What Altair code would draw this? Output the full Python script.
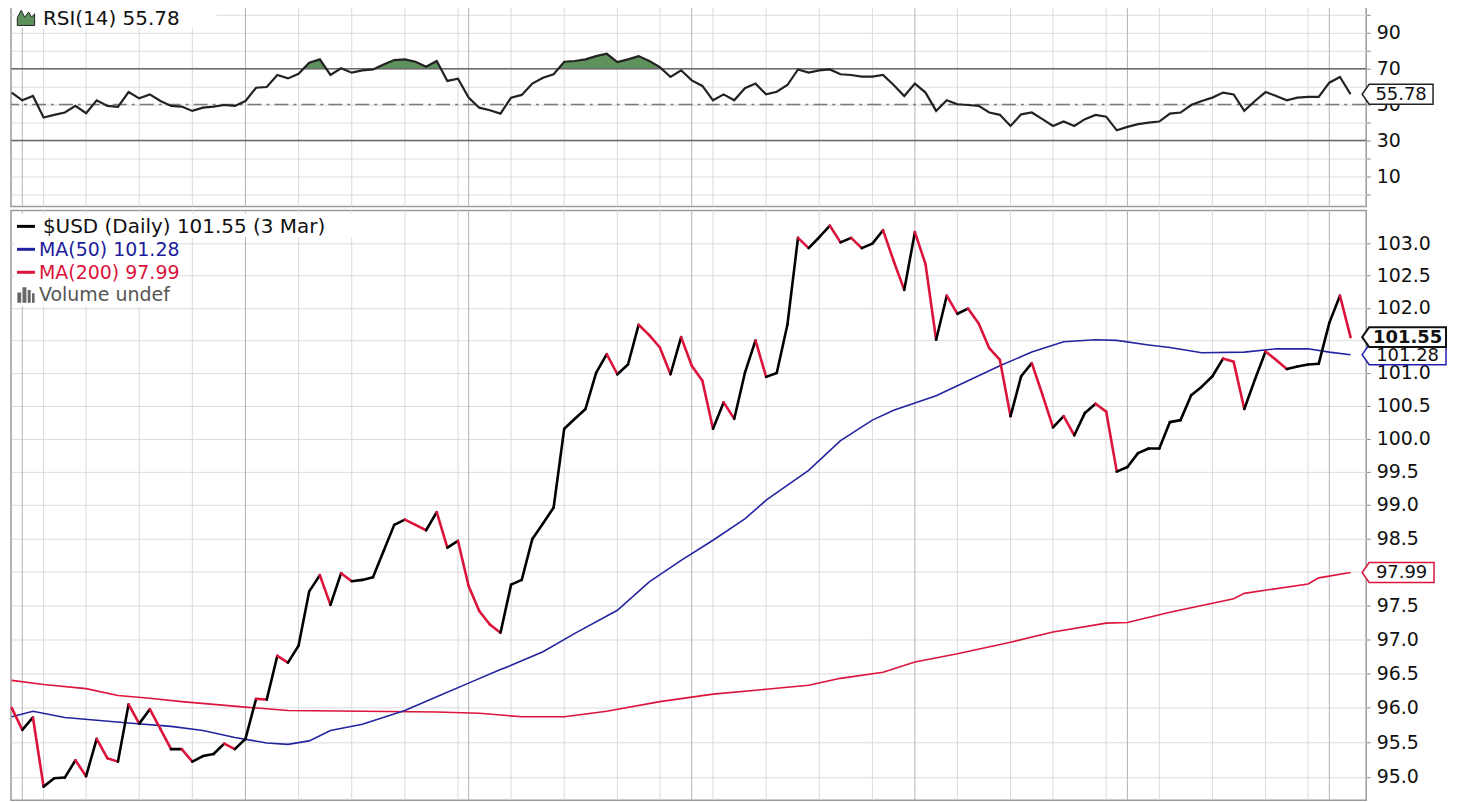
import altair as alt
import pandas as pd

# ---------------- data ----------------
price = [96.00, 95.68, 95.86, 94.86, 94.98, 94.99, 95.24, 95.01, 95.55, 95.27,
         95.22, 96.05, 95.77, 95.98, 95.69, 95.40, 95.40, 95.22, 95.30, 95.33,
         95.48, 95.40, 95.55, 96.13, 96.12, 96.76, 96.66, 96.91, 97.71, 97.95,
         97.51, 97.98, 97.86, 97.88, 97.92, 98.31, 98.70, 98.78, 98.70, 98.62,
         98.89, 98.36, 98.46, 97.79, 97.42, 97.22, 97.10, 97.81, 97.88, 98.49,
         98.72, 98.96, 100.15, 100.30, 100.45, 101.00, 101.29, 100.98, 101.13, 101.74,
         101.58, 101.39, 100.98, 101.55, 101.11, 100.88, 100.15, 100.55, 100.30, 101.00,
         101.50, 100.94, 101.00, 101.74, 103.09, 102.93, 103.10, 103.28, 103.02, 103.09,
         102.93, 103.00, 103.21, 102.73, 102.28, 103.18, 102.68, 101.51, 102.19, 101.91,
         101.99, 101.76, 101.38, 101.20, 100.34, 100.95, 101.15, 100.67, 100.17, 100.34,
         100.05, 100.39, 100.53, 100.41, 99.50, 99.57, 99.78, 99.85, 99.85, 100.25,
         100.28, 100.66, 100.79, 100.95, 101.22, 101.17, 100.45, 100.90, 101.33, 101.20,
         101.06, 101.10, 101.13, 101.14, 101.77, 102.19, 101.55]

rsi = [56.7, 52.4, 54.8, 42.8, 44.3, 45.6, 49.3, 45.2, 52.4, 49.3,
       48.7, 57.0, 53.5, 55.7, 52.0, 49.3, 48.9, 46.5, 48.3, 48.9,
       49.8, 49.3, 52.0, 59.4, 59.8, 66.5, 64.6, 67.2, 73.3, 75.2,
       66.5, 70.2, 67.8, 69.1, 69.6, 72.4, 74.8, 75.2, 73.9, 71.1,
       74.3, 63.2, 64.4, 53.9, 48.3, 46.9, 45.0, 53.9, 55.4, 61.7,
       65.0, 66.9, 73.9, 74.3, 75.2, 77.0, 78.3, 73.7, 75.2, 77.0,
       74.3, 70.9, 65.4, 69.1, 63.5, 60.4, 52.4, 55.7, 52.4, 59.1,
       61.7, 55.7, 57.2, 60.9, 69.6, 67.8, 69.1, 69.6, 66.9, 66.5,
       65.6, 65.6, 66.5, 60.9, 54.8, 61.7, 56.7, 46.5, 52.4, 50.2,
       49.8, 49.3, 45.6, 44.3, 38.1, 44.6, 45.6, 41.9, 38.1, 40.6,
       38.1, 41.9, 44.3, 43.3, 35.7, 37.6, 39.1, 40.0, 40.6, 45.0,
       45.6, 49.8, 52.0, 53.9, 56.7, 55.7, 46.5, 52.0, 57.0, 54.8,
       52.4, 53.9, 54.3, 54.3, 62.2, 65.4, 55.78]

ma50_idx = [0, 2, 5, 8, 11, 15, 18, 21, 24, 26, 28, 30, 33, 37, 40, 43, 46, 47,
            50, 53, 57, 60, 63, 66, 69, 71, 75, 78, 81, 83, 87, 90, 93, 96, 99,
            102, 104, 107, 109, 112, 116, 119, 122, 124, 126]
ma50 = [95.87, 95.95, 95.86, 95.82, 95.78, 95.73, 95.67, 95.57, 95.49, 95.47,
        95.52, 95.67, 95.76, 95.96, 96.16, 96.36, 96.56, 96.62, 96.82, 97.09,
        97.43, 97.85, 98.17, 98.47, 98.79, 99.07, 99.52, 99.97, 100.28, 100.43,
        100.65, 100.88, 101.11, 101.32, 101.48, 101.51, 101.50, 101.43, 101.39,
        101.31, 101.32, 101.37, 101.37, 101.32, 101.28]

ma200_idx = [0, 3, 7, 10, 13, 16, 19, 22, 26, 33, 40, 44, 48, 52, 56, 61, 66,
             71, 75, 78, 82, 85, 89, 94, 98, 103, 105, 109, 115, 116, 122, 123, 126]
ma200 = [96.40, 96.34, 96.28, 96.18, 96.14, 96.09, 96.05, 96.01, 95.96, 95.95,
         95.94, 95.92, 95.87, 95.87, 95.95, 96.09, 96.20, 96.27, 96.33, 96.43,
         96.52, 96.67, 96.79, 96.96, 97.11, 97.24, 97.25, 97.40, 97.60, 97.68,
         97.82, 97.91, 97.99]

month_idx = [1, 22, 43, 64, 85, 105, 124]
week_idx = [3, 7, 12, 17, 27, 32, 37, 42, 47, 52, 57, 61, 66, 71, 76, 81,
            89, 94, 98, 103, 108, 113, 118, 122]

price_ticks = [95.0, 95.5, 96.0, 96.5, 97.0, 97.5, 98.0, 98.5, 99.0, 99.5,
               100.0, 100.5, 101.0, 101.5, 102.0, 102.5, 103.0]
rsi_ticks = [0, 10, 20, 30, 40, 50, 60, 70, 80, 90, 100]
rsi_labels = [10, 30, 50, 70, 90]
rsi_levels = [70, 30]

# ---------------- styling ----------------
FONT = "DejaVu Sans"
W = 1358
HR = 201
HP = 591
BLACK = "#000000"
RED = "#dc143c"
BLUE = "#2424a0"
GREEN = "#5e915b"

n = len(price)
x_scale = alt.Scale(domain=[-0.066, 127.47], nice=False, zero=False)
rsi_scale = alt.Scale(domain=[-6.67, 105], nice=False, zero=False)
p_scale = alt.Scale(type="log", domain=[94.665, 103.52], nice=False, zero=False)

rsi_axis = alt.Axis(orient="right", values=rsi_ticks, title=None, grid=True,
                    gridColor="#dcdcdc", gridWidth=1, domain=False,
                    tickColor="#888888", tickSize=4, labelPadding=6,
                    labelExpr="indexof(" + str(rsi_labels) + ", datum.value) >= 0 ? datum.label : ''",
                    labelFont=FONT, labelFontSize=19, labelColor="#111111")
p_axis = alt.Axis(orient="right", values=price_ticks, format=".1f", title=None,
                  grid=True, gridColor="#dcdcdc", gridWidth=1, domain=False,
                  tickColor="#888888", tickSize=4, labelPadding=6,
                  labelFont=FONT, labelFontSize=19, labelColor="#111111")


def X(f):
    return alt.X(f, type="quantitative", scale=x_scale, axis=None)


def YR(f):
    return alt.Y(f, type="quantitative", scale=rsi_scale, axis=rsi_axis)


def YP(f):
    return alt.Y(f, type="quantitative", scale=p_scale, axis=p_axis)


def tag_path(w, h, a=7):
    r = w / 2.0
    hh = (h / 2.0) / r
    ax = -1 + a / r
    return (f"M -1 0 L {ax:.3f} {-hh:.3f} L 1 {-hh:.3f} L 1 {hh:.3f} "
            f"L {ax:.3f} {hh:.3f} Z")


def tag(df, field, yfn, w, stroke, sw=1.5, bold=False, fmt=".2f", fs=18):
    cx = 1354 + w / 2.0
    tx = 1354 + 7 + (w - 7) / 2.0
    shape = alt.Chart(df).mark_point(
        shape=tag_path(w, 20), size=w * w, filled=True, fill="white",
        stroke=stroke, strokeWidth=sw, opacity=1
    ).encode(x=alt.value(cx), y=yfn(field))
    txt = alt.Chart(df).mark_text(
        align="center", baseline="middle", font=FONT, fontSize=fs,
        fontWeight="bold" if bold else "normal", color="#111111", dy=1
    ).encode(x=alt.value(tx), y=yfn(field), text=alt.Text(field + ":Q", format=fmt))
    return shape + txt


dummy = pd.DataFrame({"k": [0]})
week_df = pd.DataFrame({"i": week_idx})
month_df = pd.DataFrame({"i": month_idx})


def vgrid():
    w = alt.Chart(week_df).mark_rule(color="#dadada", strokeWidth=1).encode(x=X("i"))
    m = alt.Chart(month_df).mark_rule(color="#b4b4b4", strokeWidth=1).encode(x=X("i"))
    return w + m


# ---------------- RSI panel ----------------
rsi_df = pd.DataFrame({"i": list(range(n)), "rsi": rsi})

# area above 70 (with exact crossing points so the fill stays under the line)
area_i, area_top = [], []
for k in range(n):
    if k > 0:
        a, b = rsi[k - 1], rsi[k]
        if (a - 70) * (b - 70) < 0:
            area_i.append(k - 1 + (70 - a) / (b - a))
            area_top.append(70.0)
    area_i.append(k)
    area_top.append(max(rsi[k], 70.0))
area_df = pd.DataFrame({"i": area_i, "top": area_top, "base": [70.0] * len(area_i)})

rsi_box = alt.Chart(dummy).mark_rect(fill="white").encode(
    x=alt.value(3), x2=alt.value(206), y=alt.value(1), y2=alt.value(22))
rsi_area = alt.Chart(area_df).mark_area(color=GREEN, opacity=1).encode(
    x=X("i"), y=YR("top"), y2="base:Q")
lv_df = pd.DataFrame({"lvl": rsi_levels})
rsi_lv = alt.Chart(lv_df).mark_rule(color="#6a6a6a", strokeWidth=1.5).encode(y=YR("lvl"))
mid_df = pd.DataFrame({"lvl": [50]})
rsi_mid = alt.Chart(mid_df).mark_rule(color="#7a7a7a", strokeWidth=1.5,
                                      strokeDash=[14, 5, 3, 5]).encode(y=YR("lvl"))
rsi_line = alt.Chart(rsi_df).mark_line(color="#222222", strokeWidth=2.2).encode(
    x=X("i"), y=YR("rsi"))
mountain = "M -1 1 L -1 0.1 L -0.55 -0.75 L -0.15 0.05 L 0.3 -0.55 L 0.65 0.05 L 1 -0.35 L 1 1 Z"
rsi_icon = alt.Chart(dummy).mark_point(
    shape=mountain, size=300, filled=True, fill=GREEN, stroke="#222222",
    strokeWidth=1, opacity=1).encode(x=alt.value(15), y=alt.value(11))
rsi_leg = alt.Chart(dummy).mark_text(
    align="left", baseline="top", font=FONT, fontSize=20, color="#111111"
).encode(x=alt.value(32), y=alt.value(3), text=alt.value(f"RSI(14) {rsi[-1]:.2f}"))
rsi_tag = tag(pd.DataFrame({"v": [rsi[-1]]}), "v", YR, 71, "#222222")

rsi_chart = alt.layer(
    vgrid(), rsi_box, rsi_area, rsi_lv, rsi_mid, rsi_line, rsi_icon, rsi_leg, rsi_tag
).properties(width=W, height=HR)

# ---------------- price panel ----------------
seg_df = pd.DataFrame({
    "i": list(range(n - 1)), "i2": list(range(1, n)),
    "v": price[:-1], "v2": price[1:],
    "dir": ["down" if b < a else "up" for a, b in zip(price[:-1], price[1:])],
})
ma50_df = pd.DataFrame({"i": ma50_idx, "v": ma50})
ma200_df = pd.DataFrame({"i": ma200_idx, "v": ma200})

p_box1 = alt.Chart(dummy).mark_rect(fill="white").encode(
    x=alt.value(3), x2=alt.value(374), y=alt.value(3), y2=alt.value(27))
p_box2 = alt.Chart(dummy).mark_rect(fill="white").encode(
    x=alt.value(3), x2=alt.value(168), y=alt.value(27), y2=alt.value(96))
l200 = alt.Chart(ma200_df).mark_line(color=RED, strokeWidth=1.6).encode(x=X("i"), y=YP("v"))
l50 = alt.Chart(ma50_df).mark_line(color=BLUE, strokeWidth=1.6).encode(x=X("i"), y=YP("v"))
segs = alt.Chart(seg_df).mark_rule(strokeWidth=2.6, strokeCap="round").encode(
    x=X("i"), x2="i2:Q", y=YP("v"), y2="v2:Q",
    color=alt.Color("dir:N", scale=alt.Scale(domain=["up", "down"], range=[BLACK, RED]),
                    legend=None))

leg_rows = [
    (16, BLACK, "#111111", f"$USD (Daily) {price[-1]:.2f} (3 Mar)", 32, 20),
    (39, BLUE, "#1c1c9c", f"MA(50) {ma50[-1]:.2f}", 28, 19),
    (62, RED, RED, f"MA(200) {ma200[-1]:.2f}", 28, 19),
]
leg_layers = []
for yy, lc, tc, txt, tx, fs in leg_rows:
    leg_layers.append(alt.Chart(dummy).mark_rule(color=lc, strokeWidth=3).encode(
        x=alt.value(6), x2=alt.value(24), y=alt.value(yy)))
    leg_layers.append(alt.Chart(dummy).mark_text(
        align="left", baseline="middle", font=FONT, fontSize=fs, color=tc
    ).encode(x=alt.value(tx), y=alt.value(yy + 1), text=alt.value(txt)))
bars = "M -1 1 L -1 -0.2 L -0.55 -0.2 L -0.55 1 Z M -0.4 1 L -0.4 -0.8 L 0.05 -0.8 L 0.05 1 Z M 0.2 1 L 0.2 -0.5 L 0.55 -0.5 L 0.55 1 Z M 0.7 1 L 0.7 -0.1 L 1 -0.1 L 1 1 Z"
leg_layers.append(alt.Chart(dummy).mark_point(
    shape=bars, size=300, filled=True, fill="#666666", strokeWidth=0, opacity=1
).encode(x=alt.value(15), y=alt.value(84)))
leg_layers.append(alt.Chart(dummy).mark_text(
    align="left", baseline="middle", font=FONT, fontSize=19, color="#555555"
).encode(x=alt.value(28), y=alt.value(85), text=alt.value("Volume undef")))

tag200 = tag(pd.DataFrame({"v": [ma200[-1]]}), "v", YP, 72, RED)
tag50 = tag(pd.DataFrame({"v": [ma50[-1]]}), "v", YP, 84, "#2020b0")
tagp = tag(pd.DataFrame({"v": [price[-1]]}), "v", YP, 84, "#111111", sw=2, bold=True, fs=18)

price_chart = alt.layer(
    vgrid(), p_box1, p_box2, l200, l50, segs, *leg_layers, tag200, tag50, tagp
).properties(width=W, height=HP)

chart = alt.vconcat(rsi_chart, price_chart, spacing=0).properties(
    padding={"left": -2, "top": -5, "right": 0, "bottom": 0},
    background="white",
).configure_view(
    stroke="#9a9a9a", strokeWidth=1.5
).configure_axis(labelFont=FONT)

chart.save("out.html", embed_options={"renderer": "svg", "actions": False})
